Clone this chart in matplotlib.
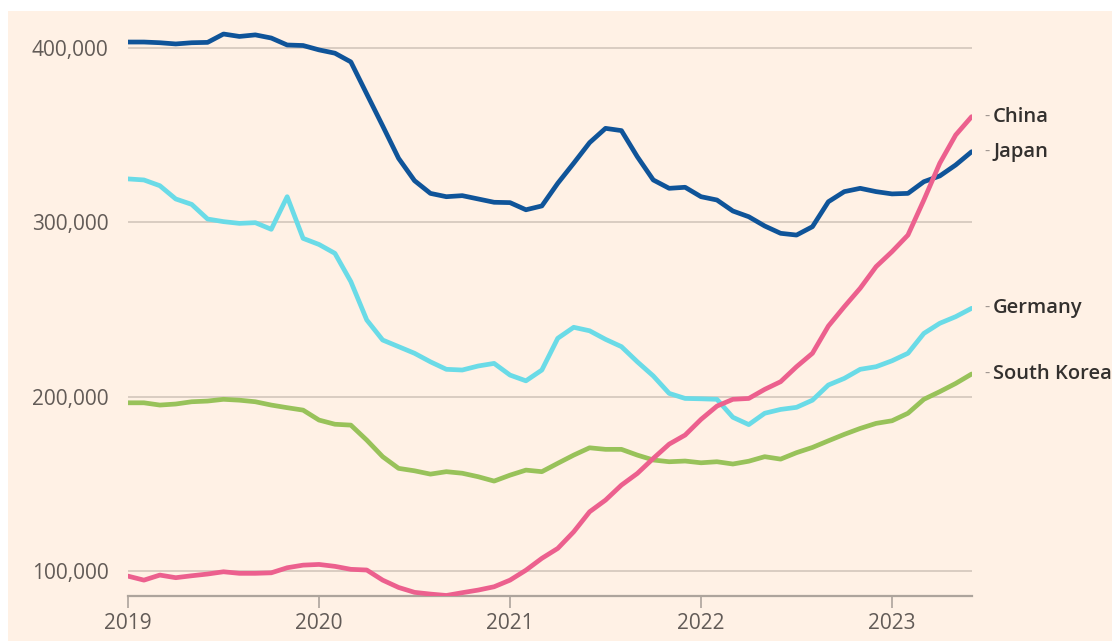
import matplotlib
matplotlib.use("Agg")
import matplotlib.pyplot as plt
from matplotlib.patches import Rectangle
import numpy as np

plt.rcParams['font.family'] = ['Open Sans', 'DejaVu Sans']

# Monthly values (thousands), Jan 2019 .. Jun 2023
start_year = 2019
japan = [403.4, 403.4, 403.0, 402.3, 403.0, 403.2, 408.0, 406.6, 407.5, 405.7,
         401.7, 401.4, 398.9, 397.0, 392.0, 373.6, 355.3, 336.7, 323.9, 316.6,
         314.7, 315.3, 313.4, 311.5, 311.3, 307.2, 309.4, 322.4, 333.9, 345.7,
         353.9, 352.6, 337.6, 324.3, 319.5, 320.1, 314.7, 312.8, 306.5, 303.2,
         297.9, 293.7, 292.7, 297.5, 311.8, 317.6, 319.5, 317.6, 316.3, 316.6,
         323.3, 326.6, 332.9, 340.5]
china = [97.1, 94.8, 97.7, 96.2, 97.3, 98.3, 99.6, 98.7, 98.7, 99.0,
         101.9, 103.4, 103.8, 102.7, 101.0, 100.6, 94.8, 90.6, 87.8, 86.8,
         86.0, 87.6, 89.1, 91.0, 94.8, 100.5, 107.3, 113.0, 122.5, 134.0,
         140.7, 149.3, 156.0, 164.6, 172.8, 178.0, 187.0, 194.6, 198.5, 199.0,
         204.2, 208.6, 217.2, 224.9, 240.5, 251.6, 262.2, 274.6, 283.2, 292.7,
         312.8, 333.9, 350.1, 360.6]
germany = [324.9, 324.3, 321.0, 313.4, 310.3, 301.9, 300.4, 299.4, 299.8, 296.0,
           314.7, 290.8, 287.3, 282.2, 266.0, 244.0, 232.5, 228.7, 224.9, 220.0,
           215.7, 215.3, 217.6, 219.1, 212.4, 209.1, 215.3, 233.5, 239.8, 237.8,
           232.9, 228.7, 220.0, 211.9, 201.9, 199.0, 198.8, 198.5, 188.2, 184.0,
           190.5, 192.7, 193.9, 198.0, 206.7, 210.5, 215.7, 217.2, 220.6, 224.9,
           236.3, 242.1, 245.9, 250.7]
south_korea = [196.5, 196.5, 195.2, 195.8, 197.1, 197.5, 198.5, 198.0, 197.1, 195.2,
               193.7, 192.3, 186.6, 184.2, 183.7, 175.1, 165.6, 158.9, 157.5, 155.6,
               157.0, 156.1, 154.1, 151.6, 155.0, 157.9, 157.0, 161.8, 166.5, 170.7,
               169.8, 169.8, 166.5, 163.7, 162.7, 163.1, 162.1, 162.7, 161.4, 163.0,
               165.6, 164.2, 167.9, 170.9, 174.7, 178.4, 181.8, 184.7, 186.2, 190.5,
               198.5, 202.9, 207.6, 213.0]

series_names = ["South Korea", "Germany", "Japan", "China"]
series_values = [south_korea, germany, japan, china]
series_colors = ["#98C25A", "#6ADBE7", "#0F5499", "#EC608E"]

year_ticks = [2019, 2020, 2021, 2022, 2023]
y_ticks = [100000, 200000, 300000, 400000]

n = len(japan)
x = start_year + np.arange(n) / 12.0

W, H = 1112, 641
fig = plt.figure(figsize=(W / 100, H / 100), dpi=100, facecolor="white")
bg = "#FFF1E5"
bgrect = Rectangle((8 / W, 0), 1 - 8 / W, (H - 11) / H,
                   transform=fig.transFigure, facecolor=bg,
                   edgecolor="none", zorder=-10)
fig.patches.append(bgrect)

ax = fig.add_axes([128 / W, (H - 596) / H, (972 - 128) / W, (596 - 30) / H])
ax.set_facecolor("none")
ax.set_zorder(1)

for name, vals, col in zip(series_names, series_values, series_colors):
    ax.plot(x, np.array(vals) * 1000, color=col, lw=3.4,
            solid_capstyle="round", solid_joinstyle="round", zorder=3)

ax.set_xlim(2019, 2019 + 53 / 12 + 0.002)
ax.set_ylim(85700, 410300)

ax.set_yticks(y_ticks)
ax.set_yticklabels([f"{v:,}" for v in y_ticks])
ax.set_xticks(year_ticks)
ax.set_xticklabels([str(y) for y in year_ticks])

ax.grid(axis="y", color="#D9CDC2", lw=1.4, zorder=1)
ax.grid(axis="x", visible=False)
for s in ["top", "right", "left"]:
    ax.spines[s].set_visible(False)
ax.spines["bottom"].set_color("#ADA49C")
ax.spines["bottom"].set_linewidth(1.6)

ax.tick_params(axis="y", length=0, pad=14, labelsize=15, labelcolor="#625B57")
ax.tick_params(axis="x", length=8.5, width=1.2, color="#ADA49C", pad=4,
               labelsize=15, labelcolor="#625B57")

# end labels
label_names = ["China", "Japan", "Germany", "South Korea"]
label_values = [china[-1], japan[-1], germany[-1], south_korea[-1]]
for name, v in zip(label_names, label_values):
    ax.annotate("-", xy=(x[-1], v * 1000), xycoords="data",
                xytext=(9.5, 0), textcoords="offset points",
                ha="left", va="center", fontsize=12, color="#9E9690",
                annotation_clip=False)
    ax.annotate(name, xy=(x[-1], v * 1000), xycoords="data",
                xytext=(15.5, 0), textcoords="offset points",
                ha="left", va="center", fontsize=14.5, color="#33302E",
                fontweight="semibold", annotation_clip=False)

fig.savefig("out.png", dpi=100, facecolor="white")
